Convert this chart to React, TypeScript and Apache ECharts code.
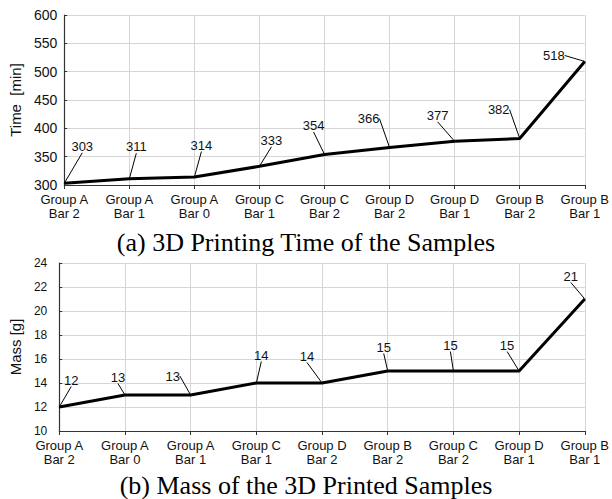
import React, { useEffect, useRef } from "react";
import * as echarts from "echarts";

const timeCategories = [
  "Group A\nBar 2", "Group A\nBar 1", "Group A\nBar 0", "Group C\nBar 1", "Group C\nBar 2",
  "Group D\nBar 2", "Group D\nBar 1", "Group B\nBar 2", "Group B\nBar 1",
];
const timeValues = [303, 311, 314, 333, 354, 366, 377, 382, 518];

const massCategories = [
  "Group A\nBar 2", "Group A\nBar 0", "Group A\nBar 1", "Group C\nBar 1", "Group D\nBar 2",
  "Group B\nBar 2", "Group C\nBar 2", "Group D\nBar 1", "Group B\nBar 1",
];
const massValues = [12, 13, 13, 14, 14, 15, 15, 15, 21];

// label displacement (layout only) relative to each point
const timeLabelOffsets = [
  [18, -37], [7, -32], [7, -32], [12, -26], [-11, -29], [-21, -29], [-17, -26], [-21, -29], [-31, -6],
];
const massLabelOffsets = [
  [12, -27], [-7, -18], [-18, -19], [5, -28], [-15, -27], [-4, -24], [-3, -26], [-12, -26], [-14, -23],
];

const SANS = "'Liberation Sans', Arial, Helvetica, sans-serif";
const SERIF = "'Liberation Serif', 'Times New Roman', serif";

export default function App() {
  const ref = useRef<HTMLDivElement>(null);
  useEffect(() => {
    if (!ref.current) return;
    const chart = echarts.init(ref.current, null, { renderer: "svg" });
    const catAxis = (gridIndex: number, data: string[], margin: number) => ({
      type: "category",
      gridIndex,
      data,
      boundaryGap: false,
      axisLine: { show: true, lineStyle: { color: "#333", width: 1.2 } },
      axisTick: { show: true, length: 4, lineStyle: { color: "#333" }, alignWithLabel: true },
      axisLabel: {
        interval: 0,
        color: "#111",
        fontFamily: SANS,
        fontSize: 13,
        lineHeight: 14,
        margin,
      },
      splitLine: { show: true, lineStyle: { color: "#d6d6d6", width: 1 } },
    });
    const valAxis = (
      gridIndex: number, min: number, max: number, interval: number,
      name: string, fontSize: number, nameSize: number, nameGap: number, margin: number
    ) => ({
      type: "value",
      gridIndex,
      min,
      max,
      interval,
      name,
      nameLocation: "middle",
      nameGap,
      nameTextStyle: { fontFamily: SANS, fontSize: nameSize, color: "#111" },
      axisLine: { show: true, lineStyle: { color: "#333", width: 1.2 } },
      axisTick: { show: true, inside: true, length: 3, lineStyle: { color: "#333" } },
      axisLabel: { color: "#111", fontFamily: SANS, fontSize, margin },
      splitLine: { show: true, lineStyle: { color: "#d6d6d6", width: 1 } },
    });
    const lineSeries = (idx: number, values: number[], offsets: number[][]) => ({
      type: "line",
      xAxisIndex: idx,
      yAxisIndex: idx,
      data: values,
      symbol: "circle",
      symbolSize: 1,
      showSymbol: true,
      itemStyle: { color: "#000" },
      lineStyle: { color: "#000", width: 3 },
      label: {
        show: true,
        position: "inside",
        color: "#111",
        fontFamily: SANS,
        fontSize: 13,
      },
      labelLine: { show: true, lineStyle: { color: "#000", width: 1 } },
      labelLayout: (p: any) => {
        const o = offsets[p.dataIndex];
        return { dx: o[0], dy: o[1] };
      },
    });
    chart.setOption({
      animation: false,
      backgroundColor: "#fff",
      title: [
        {
          text: "(a) 3D Printing Time of the Samples",
          left: "center",
          top: 229,
          padding: 0,
          textStyle: { fontFamily: SERIF, fontSize: 26, fontWeight: "normal", color: "#000" },
        },
        {
          text: "(b) Mass of the 3D Printed Samples",
          left: "center",
          top: 472,
          padding: 0,
          textStyle: { fontFamily: SERIF, fontSize: 26, fontWeight: "normal", color: "#000", lineHeight: 26 },
        },
      ],
      grid: [
        { left: 57, right: 27, top: 15, height: 170 },
        { left: 51, right: 27, top: 263, height: 168 },
      ],
      xAxis: [catAxis(0, timeCategories, 7), catAxis(1, massCategories, 7)],
      yAxis: [
        valAxis(0, 300, 600, 50, "Time  [min]", 14, 15, 37, 7),
        valAxis(1, 10, 24, 2, "Mass [g]", 12, 15, 30, 12),
      ],
      series: [
        lineSeries(0, timeValues, timeLabelOffsets),
        lineSeries(1, massValues, massLabelOffsets),
      ],
    });
    return () => chart.dispose();
  }, []);
  return (
    <div
      ref={ref}
      style={{ position: "fixed", left: 0, top: 0, width: 612, height: 499, background: "#fff" }}
    />
  );
}
